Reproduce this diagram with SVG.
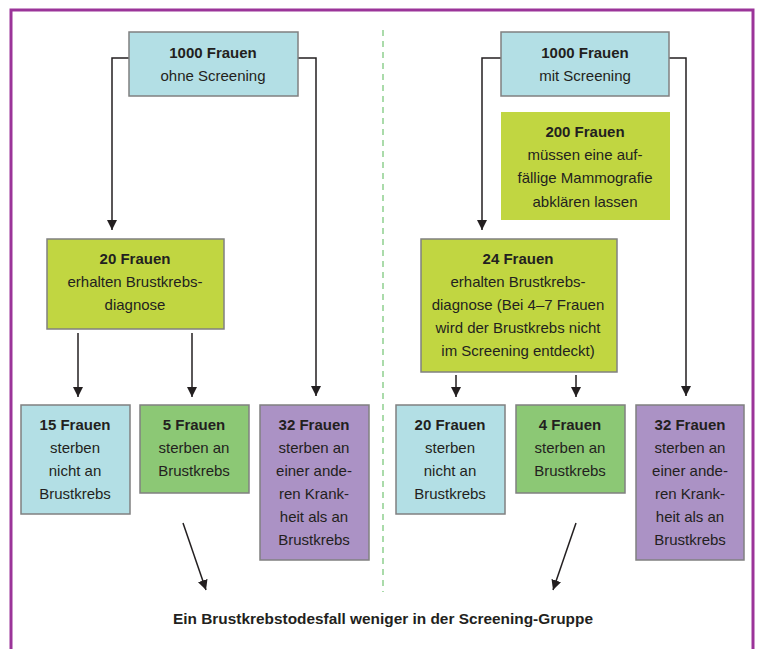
<svg xmlns="http://www.w3.org/2000/svg" width="759" height="649" viewBox="0 0 759 649">
<style>
text{font-family:"Liberation Sans Narrow","Liberation Sans",sans-serif;font-size:15px;fill:#231f20;text-anchor:middle}
.b{font-weight:bold}
.box{stroke:#808080;stroke-width:1.5}
.blue{fill:#b3dfe5}.yg{fill:#c1d641}.gr{fill:#8cc875}.pu{fill:#ab92c5}
.ln{fill:none;stroke:#231f20;stroke-width:1.5}
</style>
<defs>
<marker id="ah" viewBox="0 0 10 10" refX="10" refY="5" markerWidth="10" markerHeight="10" markerUnits="userSpaceOnUse" orient="auto">
<path d="M0,0 L10,5 L0,10 Z" fill="#231f20"/>
</marker>
</defs>
<rect x="0" y="0" width="759" height="649" fill="#fff"/>
<rect x="11" y="10" width="742" height="660" fill="none" stroke="#9b3499" stroke-width="3"/>
<line x1="383" y1="30" x2="383" y2="592" stroke="#8fd08f" stroke-width="1.5" stroke-dasharray="6,5"/>
<g id="connectors">
<path class="ln" d="M129,58 H112 V230" marker-end="url(#ah)"/>
<path class="ln" d="M298,58 H316 V396" marker-end="url(#ah)"/>
<path class="ln" d="M78,333 V397" marker-end="url(#ah)"/>
<path class="ln" d="M192,333 V397" marker-end="url(#ah)"/>
<path class="ln" d="M501,58 H482 V230" marker-end="url(#ah)"/>
<path class="ln" d="M669,58 H686 V396" marker-end="url(#ah)"/>
<path class="ln" d="M456,375 V397" marker-end="url(#ah)"/>
<path class="ln" d="M576,375 V397" marker-end="url(#ah)"/>
<path class="ln" d="M183,523 L206,590" marker-end="url(#ah)"/>
<path class="ln" d="M576,523 L553,590" marker-end="url(#ah)"/>
</g>
<g id="n1">
<rect class="box blue" x="129" y="32" width="169" height="64"/>
<text class="b" x="213" y="58">1000 Frauen</text>
<text x="213" y="81">ohne Screening</text>
</g>
<g id="n2">
<rect class="box yg" x="47" y="239" width="177" height="90"/>
<text class="b" x="135" y="264">20 Frauen</text>
<text x="135" y="287">erhalten Brustkrebs-</text>
<text x="135" y="310">diagnose</text>
</g>
<g id="n3">
<rect class="box blue" x="21" y="405" width="109" height="109"/>
<text class="b" x="75" y="430">15 Frauen</text>
<text x="75" y="453">sterben</text>
<text x="75" y="476">nicht an</text>
<text x="75" y="499">Brustkrebs</text>
</g>
<g id="n4">
<rect class="box gr" x="140" y="405" width="109" height="88"/>
<text class="b" x="194" y="430">5 Frauen</text>
<text x="194" y="453">sterben an</text>
<text x="194" y="476">Brustkrebs</text>
</g>
<g id="n5">
<rect class="box pu" x="260" y="405" width="109" height="155"/>
<text class="b" x="314" y="430">32 Frauen</text>
<text x="314" y="453">sterben an</text>
<text x="314" y="476">einer ande-</text>
<text x="314" y="499">ren Krank-</text>
<text x="314" y="522">heit als an</text>
<text x="314" y="545">Brustkrebs</text>
</g>
<g id="n6">
<rect class="box blue" x="501" y="32" width="168" height="64"/>
<text class="b" x="585" y="58">1000 Frauen</text>
<text x="585" y="81">mit Screening</text>
</g>
<g id="n7">
<rect class="yg" x="501" y="112" width="169" height="108"/>
<text class="b" x="585" y="137">200 Frauen</text>
<text x="585" y="160">müssen eine auf-</text>
<text x="585" y="183">fällige Mammografie</text>
<text x="585" y="207">abklären lassen</text>
</g>
<g id="n8">
<rect class="box yg" x="421" y="239" width="196" height="133"/>
<text class="b" x="518" y="264">24 Frauen</text>
<text x="518" y="287">erhalten Brustkrebs-</text>
<text x="518" y="310">diagnose (Bei 4–7 Frauen</text>
<text x="518" y="333">wird der Brustkrebs nicht</text>
<text x="518" y="356">im Screening entdeckt)</text>
</g>
<g id="n9">
<rect class="box blue" x="396" y="405" width="109" height="109"/>
<text class="b" x="450" y="430">20 Frauen</text>
<text x="450" y="453">sterben</text>
<text x="450" y="476">nicht an</text>
<text x="450" y="499">Brustkrebs</text>
</g>
<g id="n10">
<rect class="box gr" x="516" y="405" width="109" height="88"/>
<text class="b" x="570" y="430">4 Frauen</text>
<text x="570" y="453">sterben an</text>
<text x="570" y="476">Brustkrebs</text>
</g>
<g id="n11">
<rect class="box pu" x="636" y="405" width="108" height="155"/>
<text class="b" x="690" y="430">32 Frauen</text>
<text x="690" y="453">sterben an</text>
<text x="690" y="476">einer ande-</text>
<text x="690" y="499">ren Krank-</text>
<text x="690" y="522">heit als an</text>
<text x="690" y="545">Brustkrebs</text>
</g>
<g id="n12">
<text class="b" x="383" y="624" style="font-size:15.4px">Ein Brustkrebstodesfall weniger in der Screening-Gruppe</text>
</g>
</svg>
